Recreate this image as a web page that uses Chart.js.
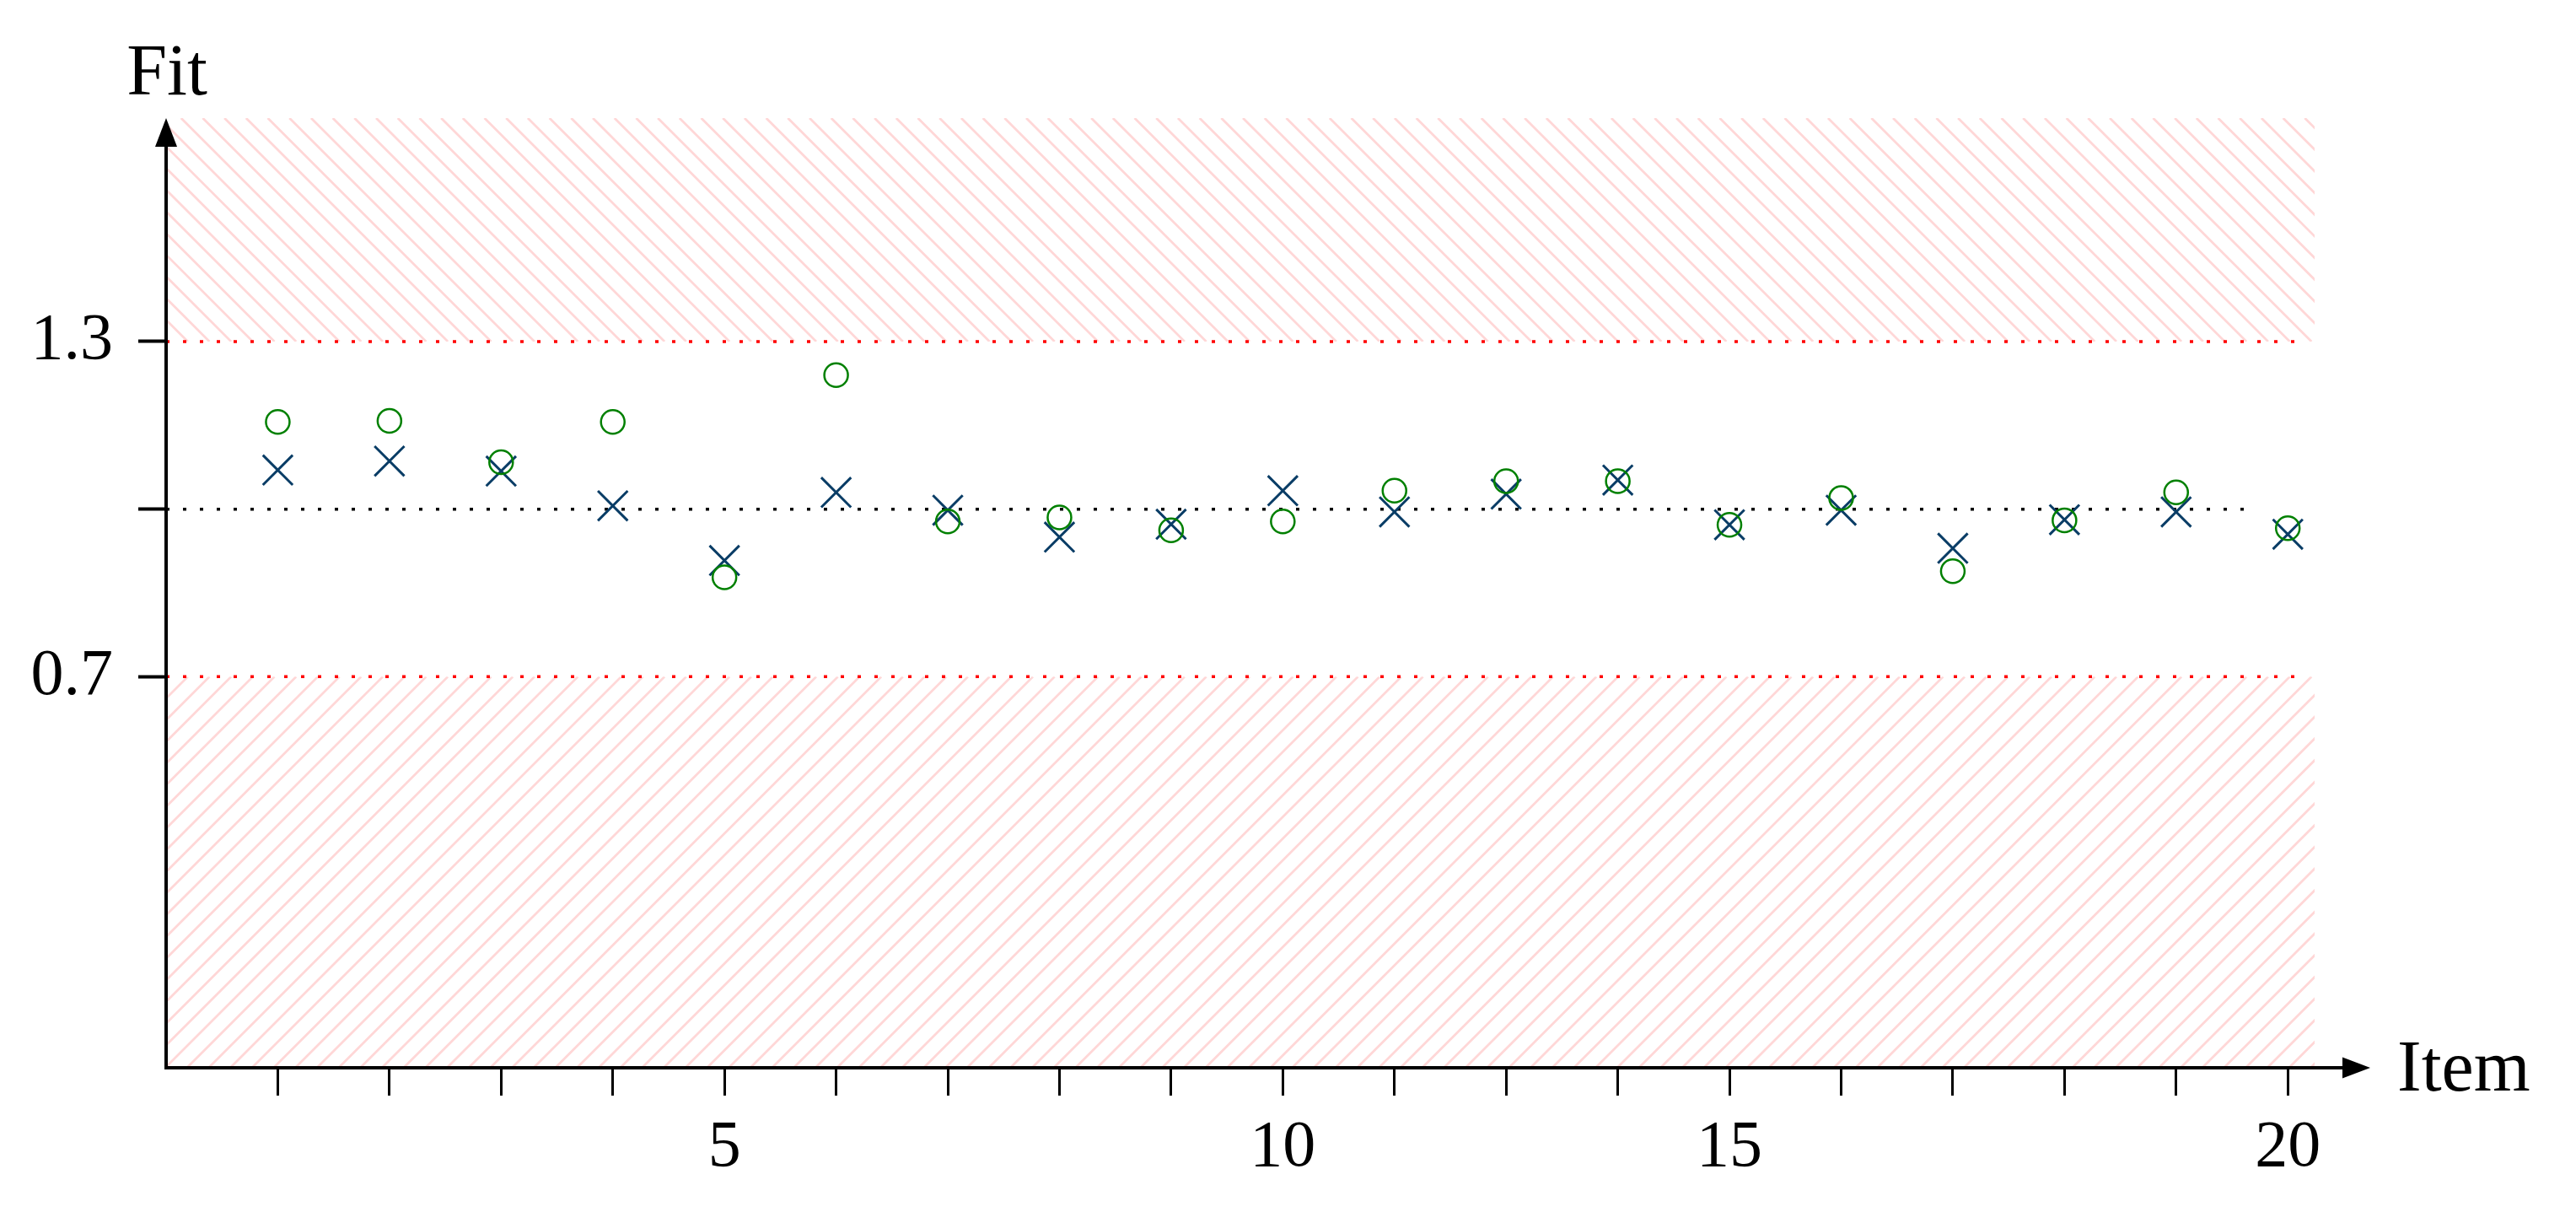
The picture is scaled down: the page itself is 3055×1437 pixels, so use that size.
<!DOCTYPE html>
<html>
<head>
<meta charset="utf-8">
<script src="https://cdn.jsdelivr.net/npm/chart.js@4.4.1/dist/chart.umd.min.js"></script>
<style>
  html, body { margin: 0; padding: 0; background: #fff; }
  canvas { display: block; }
</style>
</head>
<body>
<canvas id="fit-chart" width="3055" height="1437"></canvas>
<script>
// Item positions on the x axis
const items = [1, 2, 3, 4, 5, 6, 7, 8, 9, 10, 11, 12, 13, 14, 15, 16, 17, 18, 19];
// Labels written under the item ticks
const itemLabels = ['', '', '', '', '5', '', '', '', '', '10', '', '', '', '15', '', '', '', '', '20'];

// Crosses (dark blue)
const outfit = [1.070, 1.086, 1.068, 1.006, 0.908, 1.030, 0.998, 0.950, 0.973, 1.033,
                0.995, 1.027, 1.052, 0.972, 0.998, 0.930, 0.981, 0.995, 0.955];
// Circles (green)
const infit = [1.156, 1.158, 1.084, 1.156, 0.878, 1.240, 0.978, 0.985, 0.962, 0.978,
               1.033, 1.050, 1.050, 0.972, 1.020, 0.889, 0.980, 1.030, 0.966];

// Y axis ticks
const fitTicks = [0.7, 1.0, 1.3];
const fitTickLabels = ['0.7', '', '1.3'];

// Acceptable band and axis range
const lowerLimit = 0.7;
const upperLimit = 1.3;
const expected = 1.0;
const yMin = 0;
const yMax = 1.7;
const xMin = 0;
const xMax = 19.24;
const limitLineEnd = 19.14;
const expectedLineEnd = 18.69;

const FONT = "'Liberation Serif', 'DejaVu Serif', serif";

function hatch(ctx, x0, y0, x1, y1, dir) {
  ctx.save();
  ctx.beginPath();
  ctx.rect(x0, y0, x1 - x0, y1 - y0);
  ctx.clip();
  ctx.strokeStyle = '#ffd7d7';
  ctx.lineWidth = 2.8;
  const h = y1 - y0;
  const gap = 25.7;
  ctx.beginPath();
  for (let s = x0 - h; s < x1 + h; s += gap) {
    if (dir > 0) {
      ctx.moveTo(s, y1);
      ctx.lineTo(s + h, y0);
    } else {
      ctx.moveTo(s, y0);
      ctx.lineTo(s + h, y1);
    }
  }
  ctx.stroke();
  ctx.restore();
}

function dotted(ctx, xa, xb, yp, color) {
  ctx.save();
  ctx.strokeStyle = color;
  ctx.lineWidth = 3.5;
  ctx.setLineDash([4, 16]);
  ctx.beginPath();
  ctx.moveTo(xa, yp);
  ctx.lineTo(xb, yp);
  ctx.stroke();
  ctx.restore();
}

const decor = {
  id: 'decor',
  beforeDatasetsDraw(chart) {
    const { ctx, chartArea: a, scales: { x, y } } = chart;
    hatch(ctx, a.left, y.getPixelForValue(yMax), a.right, y.getPixelForValue(upperLimit), -1);
    hatch(ctx, a.left, y.getPixelForValue(lowerLimit), a.right, y.getPixelForValue(yMin), 1);
    dotted(ctx, x.getPixelForValue(xMin), x.getPixelForValue(limitLineEnd), y.getPixelForValue(upperLimit), '#ff0000');
    dotted(ctx, x.getPixelForValue(xMin), x.getPixelForValue(limitLineEnd), y.getPixelForValue(lowerLimit), '#ff0000');
    dotted(ctx, x.getPixelForValue(xMin), x.getPixelForValue(expectedLineEnd), y.getPixelForValue(expected), '#000000');
  },
  afterDraw(chart) {
    const { ctx, chartArea: a } = chart;
    ctx.save();
    ctx.strokeStyle = '#000';
    ctx.fillStyle = '#000';
    ctx.lineWidth = 4;
    // y axis + arrow
    ctx.beginPath();
    ctx.moveTo(a.left, a.bottom + 2);
    ctx.lineTo(a.left, a.top + 20);
    ctx.stroke();
    ctx.beginPath();
    ctx.moveTo(a.left, a.top);
    ctx.lineTo(a.left - 13, a.top + 34);
    ctx.lineTo(a.left + 13, a.top + 34);
    ctx.closePath();
    ctx.fill();
    // x axis + arrow
    const tip = a.right + 66;
    ctx.beginPath();
    ctx.moveTo(a.left - 2, a.bottom);
    ctx.lineTo(tip - 20, a.bottom);
    ctx.stroke();
    ctx.beginPath();
    ctx.moveTo(tip, a.bottom);
    ctx.lineTo(tip - 33, a.bottom - 12.5);
    ctx.lineTo(tip - 33, a.bottom + 12.5);
    ctx.closePath();
    ctx.fill();
    // axis names
    ctx.font = '86px ' + FONT;
    ctx.textBaseline = 'alphabetic';
    ctx.textAlign = 'center';
    ctx.fillText('Fit', a.left + 1, a.top - 28);
    ctx.textAlign = 'left';
    ctx.fillText('Item', a.right + 98, a.bottom + 27);
    ctx.restore();
  }
};

const fitChart = new Chart(document.getElementById('fit-chart'), {
  type: 'scatter',
  data: {
    datasets: [
      {
        label: 'Infit',
        data: items.map((it, i) => ({ x: it, y: infit[i] })),
        pointStyle: 'circle',
        pointRadius: 14,
        pointBorderWidth: 2.5,
        pointBorderColor: '#008000',
        pointBackgroundColor: 'rgba(0,0,0,0)',
        order: 0
      },
      {
        label: 'Outfit',
        data: items.map((it, i) => ({ x: it, y: outfit[i] })),
        pointStyle: 'crossRot',
        pointRadius: 25,
        pointBorderWidth: 3,
        pointBorderColor: '#0a3d66',
        pointBackgroundColor: '#0a3d66',
        order: 1
      }
    ]
  },
  options: {
    responsive: false,
    animation: false,
    devicePixelRatio: 1,
    layout: { padding: { top: 140, right: 310, left: 0, bottom: 0 } },
    plugins: {
      legend: { display: false },
      tooltip: { enabled: false }
    },
    scales: {
      x: {
        type: 'linear',
        min: xMin,
        max: xMax,
        afterBuildTicks: (s) => { s.ticks = items.map(v => ({ value: v })); },
        afterFit: (s) => { s.height = 171; },
        grid: { drawOnChartArea: false, drawTicks: true, tickLength: 33, tickWidth: 3, tickColor: '#000' },
        border: { display: false },
        ticks: {
          autoSkip: false,
          maxRotation: 0,
          padding: 16,
          color: '#000',
          font: { family: FONT, size: 78 },
          callback: (v, i) => itemLabels[i]
        }
      },
      y: {
        type: 'linear',
        min: yMin,
        max: yMax,
        afterBuildTicks: (s) => { s.ticks = fitTicks.map(v => ({ value: v })); },
        afterFit: (s) => { s.width = 197; },
        grid: { drawOnChartArea: false, drawTicks: true, tickLength: 33, tickWidth: 4, tickColor: '#000' },
        border: { display: false },
        ticks: {
          padding: 30,
          color: '#000',
          font: { family: FONT, size: 78 },
          callback: (v, i) => fitTickLabels[i]
        }
      }
    }
  },
  plugins: [decor]
});
</script>
</body>
</html>
